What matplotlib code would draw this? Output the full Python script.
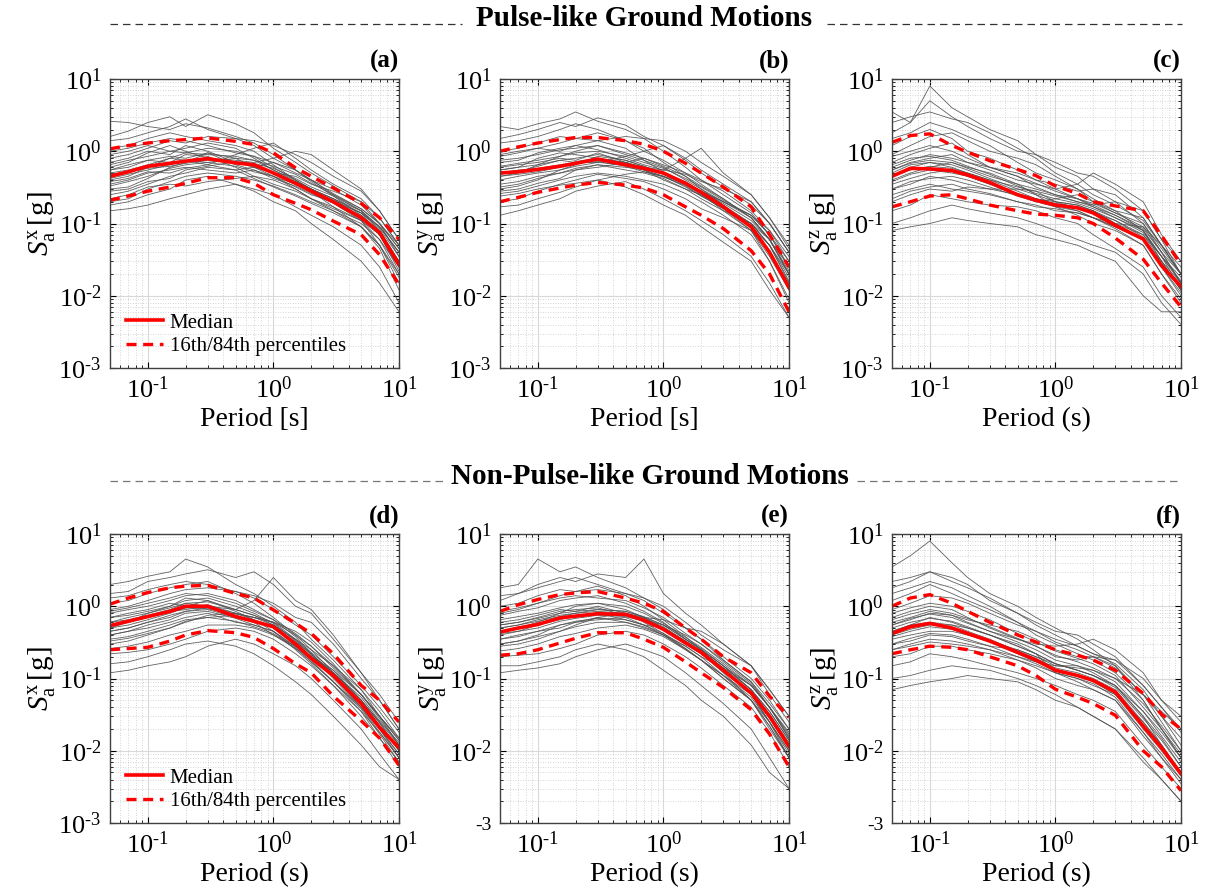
import numpy as np
import matplotlib
matplotlib.use("Agg")
import matplotlib.pyplot as plt
from matplotlib.lines import Line2D
from matplotlib.ticker import FixedLocator, LogLocator, FuncFormatter, NullFormatter

plt.rcParams['font.family'] = ['Liberation Serif', 'DejaVu Serif']
plt.rcParams['mathtext.fontset'] = 'custom'
plt.rcParams['mathtext.rm'] = 'Liberation Serif'
plt.rcParams['mathtext.it'] = 'Liberation Serif:italic'
plt.rcParams['mathtext.bf'] = 'Liberation Serif:bold'

#PERIOD GRID (s)
period = [0.05, 0.07, 0.1, 0.15, 0.2, 0.3, 0.5, 0.7, 1.0, 1.5, 2.0, 3.0, 5.0, 7.0, 10.0]

#PANEL (a) PULSE-LIKE, X
medianA = [0.45, 0.52, 0.62, 0.68, 0.73, 0.79, 0.69, 0.65, 0.50, 0.36, 0.28, 0.20, 0.12, 0.075, 0.027]
p84A = [1.08, 1.20, 1.30, 1.40, 1.45, 1.53, 1.37, 1.24, 0.95, 0.59, 0.45, 0.31, 0.19, 0.12, 0.06]
p16A = [0.21, 0.24, 0.28, 0.32, 0.36, 0.43, 0.43, 0.36, 0.25, 0.19, 0.155, 0.108, 0.07, 0.037, 0.0143]
recordsA = [
    [2.6, 2.5, 2.2, 2.0, 2.4, 2.1, 1.6, 1.3, 0.9, 0.55, 0.40, 0.25, 0.15, 0.09, 0.04],
    [1.6, 1.9, 2.5, 3.0, 2.2, 3.2, 2.4, 1.8, 1.1, 0.7, 0.5, 0.33, 0.2, 0.12, 0.05],
    [0.15, 0.16, 0.18, 0.22, 0.25, 0.30, 0.35, 0.30, 0.25, 0.17, 0.13, 0.09, 0.05, 0.025, 0.008],
    [0.40, 0.45, 0.60, 0.80, 0.95, 1.10, 1.00, 0.85, 0.60, 0.40, 0.30, 0.22, 0.12, 0.07, 0.025],
    [0.25, 0.28, 0.35, 0.45, 0.50, 0.60, 0.55, 0.60, 0.70, 0.55, 0.40, 0.30, 0.18, 0.10, 0.045],
    [1.1, 1.2, 1.5, 1.8, 1.6, 1.4, 1.2, 1.0, 0.65, 0.40, 0.28, 0.17, 0.09, 0.05, 0.015],
    [0.55, 0.65, 0.75, 0.70, 0.90, 0.85, 0.60, 0.45, 0.35, 0.28, 0.22, 0.15, 0.09, 0.05, 0.02],
    [0.20, 0.22, 0.30, 0.38, 0.45, 0.50, 0.45, 0.40, 0.33, 0.25, 0.20, 0.15, 0.10, 0.06, 0.025],
    [0.80, 0.90, 1.10, 1.40, 1.30, 1.60, 1.50, 1.40, 1.20, 0.90, 0.70, 0.45, 0.28, 0.15, 0.06],
    [0.35, 0.40, 0.50, 0.55, 0.60, 0.55, 0.50, 0.55, 0.45, 0.30, 0.22, 0.16, 0.11, 0.07, 0.03],
    [0.60, 0.70, 0.95, 1.20, 1.00, 0.80, 0.75, 0.70, 0.80, 1.00, 0.90, 0.55, 0.30, 0.15, 0.06],
    [0.18, 0.20, 0.25, 0.30, 0.40, 0.45, 0.35, 0.28, 0.20, 0.15, 0.10, 0.06, 0.03, 0.015, 0.006],
    [1.4, 1.5, 1.8, 2.2, 2.8, 2.0, 1.5, 1.2, 0.80, 0.55, 0.38, 0.24, 0.13, 0.07, 0.025],
    [0.30, 0.32, 0.42, 0.60, 0.70, 0.95, 0.80, 0.60, 0.45, 0.32, 0.25, 0.20, 0.14, 0.09, 0.04],
    [0.50, 0.55, 0.65, 0.80, 0.75, 0.65, 0.90, 1.10, 1.30, 0.80, 0.55, 0.35, 0.22, 0.12, 0.05],
    [0.90, 1.00, 1.20, 1.00, 1.10, 1.30, 1.10, 0.80, 0.55, 0.38, 0.30, 0.22, 0.15, 0.08, 0.03],
    [0.22, 0.25, 0.32, 0.35, 0.33, 0.38, 0.42, 0.45, 0.40, 0.30, 0.22, 0.17, 0.11, 0.05, 0.018],
    [0.70, 0.80, 1.00, 0.90, 1.20, 1.00, 0.70, 0.60, 0.50, 0.45, 0.35, 0.28, 0.20, 0.10, 0.035],
    [0.42, 0.48, 0.55, 0.65, 0.75, 0.70, 0.80, 0.75, 0.55, 0.40, 0.30, 0.20, 0.13, 0.08, 0.03],
    [0.55, 0.60, 0.75, 0.85, 0.80, 0.95, 0.65, 0.55, 0.42, 0.33, 0.26, 0.19, 0.11, 0.06, 0.02],
    [0.33, 0.38, 0.45, 0.58, 0.65, 0.70, 0.62, 0.52, 0.45, 0.35, 0.28, 0.21, 0.14, 0.085, 0.035],
    [0.28, 0.30, 0.38, 0.42, 0.55, 0.62, 0.72, 0.68, 0.58, 0.42, 0.32, 0.24, 0.15, 0.09, 0.04],
    [0.65, 0.75, 0.85, 1.00, 0.95, 0.90, 0.85, 0.75, 0.62, 0.48, 0.36, 0.25, 0.16, 0.10, 0.045],
    [0.38, 0.42, 0.52, 0.50, 0.58, 0.65, 0.55, 0.42, 0.32, 0.24, 0.19, 0.14, 0.09, 0.045, 0.012],
    [1.0, 1.1, 1.3, 1.5, 1.4, 1.2, 0.95, 0.85, 0.70, 0.50, 0.40, 0.26, 0.16, 0.10, 0.05],
    [0.48, 0.52, 0.58, 0.62, 0.68, 0.75, 0.70, 0.62, 0.50, 0.38, 0.30, 0.22, 0.14, 0.07, 0.022],
]

#PANEL (b) PULSE-LIKE, Y
medianB = [0.50, 0.52, 0.56, 0.62, 0.68, 0.78, 0.65, 0.58, 0.50, 0.36, 0.27, 0.17, 0.09, 0.040, 0.013]
p84B = [1.00, 1.15, 1.30, 1.45, 1.55, 1.55, 1.40, 1.25, 1.00, 0.68, 0.50, 0.32, 0.17, 0.07, 0.025]
p16B = [0.20, 0.23, 0.27, 0.31, 0.34, 0.37, 0.34, 0.31, 0.25, 0.17, 0.13, 0.085, 0.042, 0.02, 0.006]
recordsB = [
    [2.2, 2.0, 2.4, 2.8, 3.5, 2.6, 2.0, 1.5, 1.0, 0.6, 0.4, 0.25, 0.14, 0.07, 0.025],
    [1.5, 1.7, 2.0, 2.5, 2.2, 2.9, 2.3, 1.6, 1.2, 0.80, 0.55, 0.35, 0.20, 0.10, 0.04],
    [0.13, 0.15, 0.18, 0.22, 0.28, 0.33, 0.38, 0.30, 0.22, 0.15, 0.11, 0.07, 0.035, 0.015, 0.005],
    [0.45, 0.50, 0.65, 0.85, 1.00, 1.20, 0.90, 0.75, 0.60, 0.40, 0.30, 0.20, 0.12, 0.06, 0.02],
    [0.28, 0.30, 0.36, 0.42, 0.55, 0.60, 0.70, 0.80, 0.65, 0.50, 0.40, 0.28, 0.15, 0.08, 0.03],
    [1.0, 1.1, 1.3, 1.6, 1.5, 1.8, 1.4, 1.1, 0.70, 0.45, 0.30, 0.18, 0.09, 0.05, 0.015],
    [0.60, 0.65, 0.70, 0.80, 0.75, 0.95, 0.70, 0.55, 0.40, 0.30, 0.25, 0.17, 0.10, 0.05, 0.02],
    [0.20, 0.22, 0.28, 0.35, 0.40, 0.48, 0.42, 0.38, 0.30, 0.22, 0.16, 0.12, 0.08, 0.04, 0.015],
    [0.85, 0.95, 1.10, 1.30, 1.50, 1.40, 1.60, 1.50, 1.40, 1.00, 0.70, 0.45, 0.25, 0.12, 0.045],
    [0.35, 0.38, 0.45, 0.50, 0.55, 0.65, 0.55, 0.50, 0.42, 0.30, 0.22, 0.15, 0.10, 0.06, 0.025],
    [0.55, 0.60, 0.80, 0.95, 0.90, 0.80, 0.70, 0.60, 0.55, 0.80, 1.10, 0.50, 0.25, 0.12, 0.05],
    [0.17, 0.18, 0.22, 0.27, 0.32, 0.40, 0.32, 0.25, 0.18, 0.13, 0.09, 0.055, 0.03, 0.012, 0.005],
    [1.3, 1.4, 1.6, 2.0, 2.4, 2.0, 1.4, 1.0, 0.75, 0.50, 0.35, 0.22, 0.12, 0.06, 0.02],
    [0.30, 0.33, 0.40, 0.55, 0.65, 0.85, 0.75, 0.62, 0.48, 0.35, 0.28, 0.20, 0.13, 0.08, 0.035],
    [0.48, 0.52, 0.62, 0.75, 0.70, 0.70, 0.85, 1.00, 1.20, 0.75, 0.50, 0.32, 0.18, 0.10, 0.04],
    [0.90, 1.00, 1.10, 1.00, 1.20, 1.40, 1.10, 0.75, 0.52, 0.36, 0.28, 0.20, 0.13, 0.07, 0.025],
    [0.24, 0.26, 0.30, 0.34, 0.36, 0.40, 0.48, 0.52, 0.45, 0.33, 0.24, 0.17, 0.10, 0.05, 0.016],
    [0.70, 0.75, 0.95, 1.10, 1.20, 1.05, 0.80, 0.65, 0.55, 0.48, 0.38, 0.30, 0.20, 0.10, 0.04],
    [0.45, 0.48, 0.52, 0.60, 0.72, 0.80, 0.70, 0.60, 0.48, 0.35, 0.26, 0.15, 0.08, 0.035, 0.012],
    [0.55, 0.60, 0.65, 0.75, 0.80, 0.90, 0.75, 0.62, 0.50, 0.38, 0.28, 0.18, 0.10, 0.05, 0.018],
    [0.32, 0.35, 0.42, 0.50, 0.58, 0.65, 0.60, 0.55, 0.45, 0.32, 0.24, 0.16, 0.09, 0.04, 0.012],
    [0.40, 0.45, 0.50, 0.55, 0.62, 0.70, 0.65, 0.55, 0.45, 0.36, 0.28, 0.19, 0.11, 0.06, 0.022],
    [0.75, 0.80, 0.90, 1.05, 1.10, 1.20, 0.95, 0.80, 0.62, 0.45, 0.33, 0.22, 0.12, 0.06, 0.02],
    [0.26, 0.28, 0.33, 0.40, 0.45, 0.50, 0.45, 0.40, 0.35, 0.26, 0.20, 0.13, 0.07, 0.03, 0.009],
    [0.62, 0.68, 0.75, 0.85, 0.95, 1.00, 0.85, 0.70, 0.58, 0.42, 0.32, 0.21, 0.13, 0.07, 0.03],
    [0.50, 0.55, 0.58, 0.65, 0.70, 0.72, 0.62, 0.52, 0.44, 0.34, 0.25, 0.16, 0.08, 0.03, 0.008],
]

#PANEL (c) PULSE-LIKE, Z
medianC = [0.45, 0.58, 0.57, 0.54, 0.47, 0.37, 0.25, 0.21, 0.18, 0.165, 0.14, 0.094, 0.061, 0.026, 0.0135]
p84C = [1.33, 1.65, 1.74, 1.20, 0.97, 0.74, 0.56, 0.46, 0.33, 0.26, 0.20, 0.175, 0.15, 0.068, 0.027]
p16C = [0.17, 0.20, 0.24, 0.25, 0.22, 0.18, 0.15, 0.135, 0.13, 0.12, 0.10, 0.063, 0.032, 0.015, 0.007]
recordsC = [
    [3.5, 2.5, 5.0, 3.0, 2.2, 1.5, 1.0, 0.9, 0.6, 0.45, 0.30, 0.20, 0.10, 0.04, 0.015],
    [1.8, 2.5, 8.0, 4.0, 3.0, 2.0, 1.4, 0.9, 0.7, 0.5, 0.45, 0.30, 0.15, 0.06, 0.02],
    [0.08, 0.09, 0.10, 0.12, 0.11, 0.10, 0.09, 0.07, 0.06, 0.05, 0.04, 0.03, 0.010, 0.006, 0.006],
    [0.45, 0.60, 0.70, 0.60, 0.50, 0.40, 0.28, 0.22, 0.20, 0.18, 0.15, 0.10, 0.06, 0.025, 0.01],
    [1.2, 1.6, 2.0, 1.5, 1.0, 0.80, 0.55, 0.40, 0.30, 0.22, 0.17, 0.13, 0.08, 0.03, 0.012],
    [0.25, 0.30, 0.35, 0.30, 0.28, 0.25, 0.20, 0.18, 0.15, 0.14, 0.12, 0.10, 0.09, 0.05, 0.025],
    [0.70, 0.90, 1.10, 1.30, 0.90, 0.60, 0.45, 0.32, 0.25, 0.20, 0.18, 0.20, 0.15, 0.06, 0.03],
    [0.15, 0.18, 0.25, 0.22, 0.20, 0.18, 0.17, 0.15, 0.12, 0.10, 0.07, 0.045, 0.025, 0.01, 0.005],
    [2.5, 3.0, 3.5, 2.8, 2.5, 1.8, 1.1, 0.8, 0.5, 0.35, 0.25, 0.18, 0.11, 0.05, 0.02],
    [0.35, 0.42, 0.50, 0.55, 0.45, 0.35, 0.25, 0.20, 0.22, 0.25, 0.20, 0.14, 0.09, 0.04, 0.015],
    [0.55, 0.70, 0.80, 0.90, 0.70, 0.55, 0.40, 0.35, 0.30, 0.35, 0.50, 0.35, 0.20, 0.07, 0.03],
    [0.10, 0.12, 0.15, 0.18, 0.16, 0.14, 0.12, 0.10, 0.08, 0.06, 0.05, 0.04, 0.02, 0.008, 0.004],
    [0.90, 1.20, 1.60, 1.80, 1.40, 1.00, 0.80, 0.65, 0.45, 0.30, 0.22, 0.15, 0.08, 0.035, 0.012],
    [0.30, 0.35, 0.45, 0.40, 0.35, 0.30, 0.30, 0.28, 0.20, 0.16, 0.14, 0.11, 0.07, 0.035, 0.015],
    [0.40, 0.50, 0.60, 0.70, 0.60, 0.50, 0.35, 0.25, 0.17, 0.13, 0.10, 0.08, 0.05, 0.02, 0.008],
    [1.5, 1.8, 2.5, 2.0, 1.6, 1.2, 0.70, 0.50, 0.40, 0.30, 0.20, 0.15, 0.12, 0.05, 0.02],
    [0.20, 0.25, 0.30, 0.28, 0.32, 0.30, 0.25, 0.22, 0.18, 0.15, 0.12, 0.09, 0.06, 0.03, 0.012],
    [0.60, 0.75, 0.90, 0.80, 0.70, 0.60, 0.50, 0.40, 0.35, 0.28, 0.30, 0.25, 0.12, 0.05, 0.02],
    [0.50, 0.65, 0.70, 0.65, 0.55, 0.42, 0.30, 0.25, 0.20, 0.18, 0.15, 0.10, 0.07, 0.03, 0.015],
    [0.38, 0.48, 0.55, 0.50, 0.45, 0.35, 0.26, 0.22, 0.19, 0.17, 0.15, 0.11, 0.065, 0.028, 0.012],
    [0.65, 0.80, 0.85, 0.75, 0.62, 0.48, 0.33, 0.26, 0.22, 0.19, 0.16, 0.12, 0.08, 0.035, 0.016],
    [0.30, 0.38, 0.42, 0.45, 0.40, 0.32, 0.24, 0.20, 0.17, 0.15, 0.12, 0.085, 0.05, 0.02, 0.009],
    [0.85, 1.00, 1.20, 1.00, 0.80, 0.60, 0.45, 0.36, 0.28, 0.22, 0.19, 0.14, 0.10, 0.045, 0.02],
    [0.22, 0.28, 0.32, 0.35, 0.30, 0.26, 0.20, 0.17, 0.16, 0.14, 0.12, 0.09, 0.06, 0.025, 0.011],
    [0.45, 0.55, 0.62, 0.58, 0.50, 0.40, 0.32, 0.28, 0.24, 0.20, 0.17, 0.12, 0.075, 0.035, 0.018],
    [0.55, 0.68, 0.75, 0.70, 0.58, 0.45, 0.35, 0.30, 0.25, 0.22, 0.18, 0.13, 0.085, 0.04, 0.02],
]

#PANEL (d) NON-PULSE-LIKE, X
medianD = [0.54, 0.62, 0.72, 0.85, 1.00, 1.00, 0.72, 0.62, 0.52, 0.30, 0.19, 0.11, 0.045, 0.021, 0.011]
p84D = [1.07, 1.30, 1.55, 1.80, 1.90, 1.95, 1.50, 1.30, 0.89, 0.58, 0.42, 0.22, 0.08, 0.05, 0.025]
p16D = [0.25, 0.26, 0.27, 0.33, 0.40, 0.46, 0.43, 0.37, 0.26, 0.16, 0.12, 0.057, 0.026, 0.015, 0.0063]
recordsD = [
    [2.0, 2.2, 2.6, 3.0, 4.5, 3.5, 2.0, 1.5, 1.0, 0.6, 0.35, 0.18, 0.07, 0.035, 0.015],
    [1.5, 1.6, 2.2, 2.5, 2.8, 3.2, 2.5, 3.0, 2.0, 1.0, 0.8, 0.35, 0.12, 0.06, 0.025],
    [0.12, 0.13, 0.15, 0.17, 0.20, 0.28, 0.35, 0.30, 0.22, 0.15, 0.10, 0.05, 0.02, 0.009, 0.004],
    [0.50, 0.60, 0.80, 1.00, 1.30, 1.20, 0.90, 0.75, 0.55, 0.30, 0.20, 0.10, 0.04, 0.02, 0.009],
    [0.30, 0.33, 0.40, 0.50, 0.60, 0.75, 0.80, 0.70, 0.60, 0.40, 0.28, 0.15, 0.06, 0.03, 0.015],
    [1.1, 1.2, 1.5, 1.8, 2.0, 2.2, 1.5, 1.1, 0.70, 0.40, 0.25, 0.12, 0.05, 0.022, 0.01],
    [0.70, 0.80, 0.90, 1.10, 1.00, 1.20, 0.85, 0.65, 0.45, 0.28, 0.18, 0.09, 0.035, 0.018, 0.008],
    [0.22, 0.23, 0.25, 0.30, 0.35, 0.45, 0.50, 0.45, 0.35, 0.22, 0.15, 0.08, 0.035, 0.015, 0.006],
    [0.90, 1.00, 1.20, 1.50, 1.70, 1.80, 1.60, 1.40, 1.10, 0.70, 0.60, 0.30, 0.10, 0.05, 0.02],
    [0.40, 0.45, 0.50, 0.60, 0.70, 0.80, 0.60, 0.55, 0.45, 0.25, 0.16, 0.08, 0.03, 0.015, 0.007],
    [0.55, 0.60, 0.70, 0.85, 0.90, 1.00, 0.90, 1.20, 2.50, 1.20, 0.90, 0.40, 0.12, 0.05, 0.02],
    [0.16, 0.17, 0.20, 0.25, 0.30, 0.33, 0.28, 0.22, 0.15, 0.09, 0.06, 0.03, 0.012, 0.006, 0.004],
    [1.3, 1.4, 1.7, 2.0, 2.2, 2.0, 1.6, 1.3, 0.90, 0.55, 0.40, 0.20, 0.08, 0.04, 0.018],
    [0.35, 0.38, 0.45, 0.55, 0.65, 0.70, 0.75, 0.60, 0.40, 0.26, 0.20, 0.13, 0.06, 0.03, 0.014],
    [0.45, 0.50, 0.60, 0.75, 0.85, 0.90, 0.70, 0.60, 0.55, 0.35, 0.25, 0.15, 0.07, 0.03, 0.012],
    [0.80, 0.90, 1.00, 1.20, 1.40, 1.50, 1.20, 0.90, 0.65, 0.38, 0.22, 0.11, 0.04, 0.02, 0.008],
    [0.26, 0.28, 0.32, 0.40, 0.45, 0.55, 0.55, 0.50, 0.40, 0.28, 0.20, 0.12, 0.05, 0.025, 0.01],
    [0.60, 0.65, 0.75, 0.90, 1.10, 1.00, 0.80, 0.70, 0.60, 0.45, 0.32, 0.16, 0.06, 0.028, 0.012],
    [0.50, 0.55, 0.65, 0.80, 0.95, 1.05, 0.80, 0.65, 0.50, 0.30, 0.20, 0.11, 0.045, 0.022, 0.011],
    [0.60, 0.70, 0.80, 0.95, 1.10, 1.15, 0.90, 0.75, 0.60, 0.35, 0.23, 0.13, 0.05, 0.025, 0.012],
    [0.40, 0.45, 0.55, 0.65, 0.80, 0.85, 0.68, 0.55, 0.45, 0.27, 0.17, 0.09, 0.04, 0.018, 0.008],
    [0.70, 0.75, 0.85, 1.00, 1.20, 1.30, 1.00, 0.80, 0.58, 0.33, 0.21, 0.12, 0.05, 0.024, 0.01],
    [0.45, 0.50, 0.60, 0.70, 0.85, 0.95, 0.75, 0.62, 0.52, 0.32, 0.22, 0.12, 0.055, 0.026, 0.013],
    [0.85, 0.95, 1.10, 1.30, 1.50, 1.40, 1.10, 0.85, 0.65, 0.42, 0.28, 0.14, 0.06, 0.03, 0.014],
    [0.33, 0.36, 0.42, 0.50, 0.62, 0.70, 0.62, 0.52, 0.42, 0.26, 0.17, 0.09, 0.038, 0.017, 0.007],
    [0.55, 0.62, 0.72, 0.85, 0.95, 0.92, 0.78, 0.70, 0.55, 0.34, 0.22, 0.11, 0.045, 0.02, 0.009],
]

#PANEL (e) NON-PULSE-LIKE, Y
medianE = [0.44, 0.50, 0.56, 0.69, 0.73, 0.79, 0.77, 0.64, 0.48, 0.31, 0.23, 0.13, 0.063, 0.03, 0.0115]
p84E = [0.85, 1.05, 1.24, 1.45, 1.53, 1.60, 1.30, 1.10, 0.85, 0.50, 0.35, 0.20, 0.12, 0.057, 0.029]
p16E = [0.21, 0.22, 0.25, 0.31, 0.36, 0.43, 0.43, 0.35, 0.27, 0.17, 0.12, 0.075, 0.037, 0.017, 0.006]
recordsE = [
    [1.8, 2.0, 4.5, 3.0, 3.5, 2.5, 1.8, 1.3, 0.9, 0.5, 0.35, 0.2, 0.1, 0.05, 0.02],
    [1.2, 1.5, 2.0, 2.5, 2.2, 2.8, 2.5, 4.5, 1.5, 0.8, 0.55, 0.3, 0.15, 0.07, 0.03],
    [0.12, 0.13, 0.14, 0.16, 0.20, 0.25, 0.30, 0.25, 0.20, 0.12, 0.08, 0.045, 0.02, 0.008, 0.003],
    [0.45, 0.50, 0.60, 0.80, 1.00, 1.10, 0.90, 0.70, 0.50, 0.30, 0.22, 0.12, 0.05, 0.025, 0.01],
    [0.28, 0.30, 0.35, 0.45, 0.55, 0.70, 0.80, 0.70, 0.55, 0.35, 0.25, 0.15, 0.08, 0.04, 0.015],
    [1.0, 1.1, 1.4, 1.7, 1.6, 1.9, 1.4, 1.0, 0.65, 0.38, 0.25, 0.13, 0.06, 0.025, 0.008],
    [0.60, 0.65, 0.75, 0.90, 0.85, 1.00, 0.80, 0.60, 0.42, 0.26, 0.18, 0.10, 0.05, 0.02, 0.008],
    [0.20, 0.21, 0.22, 0.26, 0.30, 0.40, 0.45, 0.40, 0.30, 0.20, 0.14, 0.08, 0.04, 0.018, 0.006],
    [0.80, 0.90, 1.10, 1.40, 1.60, 1.70, 1.50, 1.30, 1.00, 0.60, 0.40, 0.25, 0.15, 0.07, 0.03],
    [0.35, 0.38, 0.45, 0.50, 0.60, 0.70, 0.60, 0.50, 0.40, 0.25, 0.18, 0.11, 0.06, 0.03, 0.012],
    [0.50, 0.55, 0.65, 0.75, 0.80, 0.90, 0.85, 0.70, 0.65, 0.50, 0.45, 0.30, 0.15, 0.06, 0.025],
    [0.15, 0.15, 0.17, 0.20, 0.25, 0.30, 0.25, 0.20, 0.13, 0.08, 0.05, 0.03, 0.012, 0.005, 0.003],
    [1.4, 1.5, 1.8, 2.2, 2.5, 2.0, 1.5, 1.2, 0.80, 0.50, 0.35, 0.18, 0.09, 0.04, 0.015],
    [0.30, 0.33, 0.40, 0.55, 0.60, 0.65, 0.70, 0.55, 0.40, 0.28, 0.20, 0.14, 0.08, 0.04, 0.018],
    [0.42, 0.45, 0.55, 0.65, 0.75, 0.80, 0.65, 0.55, 0.50, 0.32, 0.22, 0.13, 0.06, 0.025, 0.009],
    [0.75, 0.85, 0.95, 1.20, 1.30, 1.40, 1.10, 0.85, 0.60, 0.35, 0.25, 0.15, 0.07, 0.035, 0.014],
    [0.24, 0.26, 0.30, 0.38, 0.42, 0.50, 0.55, 0.48, 0.38, 0.25, 0.18, 0.11, 0.05, 0.022, 0.008],
    [0.55, 0.60, 0.70, 0.85, 0.90, 0.95, 0.75, 0.65, 0.55, 0.40, 0.30, 0.18, 0.09, 0.045, 0.02],
    [0.45, 0.50, 0.55, 0.68, 0.72, 0.80, 0.78, 0.65, 0.48, 0.30, 0.22, 0.13, 0.065, 0.03, 0.012],
    [0.55, 0.60, 0.68, 0.80, 0.85, 0.90, 0.85, 0.72, 0.55, 0.35, 0.26, 0.15, 0.07, 0.035, 0.014],
    [0.35, 0.40, 0.45, 0.55, 0.62, 0.68, 0.65, 0.55, 0.42, 0.28, 0.20, 0.11, 0.055, 0.025, 0.01],
    [0.65, 0.72, 0.80, 0.95, 1.05, 1.10, 1.00, 0.80, 0.58, 0.37, 0.27, 0.16, 0.08, 0.04, 0.016],
    [0.40, 0.45, 0.50, 0.62, 0.68, 0.75, 0.72, 0.62, 0.50, 0.33, 0.24, 0.14, 0.07, 0.032, 0.013],
    [0.85, 0.95, 1.10, 1.30, 1.40, 1.30, 1.20, 0.95, 0.70, 0.42, 0.30, 0.17, 0.085, 0.04, 0.017],
    [0.30, 0.33, 0.38, 0.45, 0.52, 0.60, 0.60, 0.52, 0.40, 0.26, 0.18, 0.10, 0.05, 0.022, 0.008],
    [0.50, 0.55, 0.62, 0.72, 0.80, 0.85, 0.80, 0.68, 0.52, 0.33, 0.24, 0.14, 0.06, 0.028, 0.011],
]

#PANEL (f) NON-PULSE-LIKE, Z
medianF = [0.42, 0.52, 0.58, 0.50, 0.42, 0.33, 0.23, 0.18, 0.13, 0.11, 0.094, 0.065, 0.022, 0.011, 0.0048]
p84F = [1.00, 1.30, 1.45, 1.10, 0.85, 0.60, 0.40, 0.32, 0.25, 0.21, 0.18, 0.13, 0.062, 0.032, 0.020]
p16F = [0.22, 0.25, 0.28, 0.27, 0.25, 0.20, 0.15, 0.11, 0.071, 0.055, 0.045, 0.031, 0.010, 0.006, 0.0028]
recordsF = [
    [3.5, 5.0, 8.0, 4.0, 2.5, 1.5, 1.0, 0.7, 0.5, 0.35, 0.25, 0.15, 0.06, 0.03, 0.015],
    [1.8, 2.2, 3.0, 2.5, 2.0, 1.2, 0.80, 0.60, 0.45, 0.40, 0.30, 0.20, 0.08, 0.04, 0.02],
    [0.07, 0.08, 0.09, 0.10, 0.11, 0.10, 0.09, 0.07, 0.05, 0.04, 0.03, 0.02, 0.008, 0.004, 0.002],
    [0.45, 0.55, 0.70, 0.60, 0.50, 0.40, 0.28, 0.22, 0.16, 0.13, 0.11, 0.08, 0.03, 0.015, 0.006],
    [1.2, 1.5, 2.0, 1.5, 1.2, 0.90, 0.60, 0.40, 0.30, 0.22, 0.18, 0.12, 0.05, 0.02, 0.008],
    [0.25, 0.28, 0.32, 0.30, 0.28, 0.25, 0.20, 0.17, 0.15, 0.14, 0.13, 0.10, 0.06, 0.035, 0.02],
    [0.70, 0.85, 1.00, 0.90, 0.70, 0.50, 0.35, 0.28, 0.20, 0.18, 0.20, 0.18, 0.08, 0.04, 0.018],
    [0.15, 0.17, 0.22, 0.20, 0.18, 0.15, 0.12, 0.10, 0.08, 0.06, 0.05, 0.035, 0.012, 0.006, 0.003],
    [2.2, 2.5, 3.0, 2.2, 1.8, 1.3, 0.80, 0.55, 0.40, 0.28, 0.22, 0.16, 0.07, 0.03, 0.012],
    [0.35, 0.40, 0.45, 0.45, 0.40, 0.33, 0.25, 0.20, 0.15, 0.15, 0.12, 0.08, 0.03, 0.012, 0.005],
    [0.55, 0.65, 0.80, 0.75, 0.60, 0.45, 0.35, 0.30, 0.28, 0.30, 0.35, 0.25, 0.12, 0.05, 0.025],
    [0.10, 0.11, 0.13, 0.15, 0.14, 0.13, 0.10, 0.08, 0.06, 0.04, 0.03, 0.02, 0.007, 0.004, 0.002],
    [0.90, 1.10, 1.40, 1.30, 1.10, 0.80, 0.55, 0.45, 0.32, 0.25, 0.20, 0.14, 0.06, 0.025, 0.01],
    [0.30, 0.33, 0.40, 0.38, 0.33, 0.28, 0.25, 0.20, 0.16, 0.13, 0.11, 0.08, 0.035, 0.018, 0.008],
    [0.40, 0.48, 0.55, 0.55, 0.50, 0.40, 0.30, 0.22, 0.12, 0.09, 0.07, 0.05, 0.018, 0.008, 0.004],
    [1.5, 1.8, 2.2, 1.8, 1.4, 1.0, 0.60, 0.45, 0.35, 0.28, 0.22, 0.18, 0.10, 0.05, 0.03],
    [0.20, 0.22, 0.28, 0.28, 0.25, 0.22, 0.18, 0.15, 0.12, 0.10, 0.08, 0.06, 0.025, 0.012, 0.005],
    [0.60, 0.70, 0.85, 0.75, 0.65, 0.55, 0.45, 0.35, 0.25, 0.20, 0.20, 0.15, 0.05, 0.02, 0.008],
    [0.45, 0.55, 0.60, 0.55, 0.45, 0.35, 0.24, 0.19, 0.14, 0.12, 0.10, 0.07, 0.025, 0.012, 0.005],
    [0.38, 0.45, 0.52, 0.48, 0.40, 0.32, 0.22, 0.17, 0.13, 0.11, 0.09, 0.06, 0.02, 0.01, 0.0045],
    [0.55, 0.68, 0.78, 0.70, 0.58, 0.45, 0.32, 0.25, 0.18, 0.15, 0.13, 0.09, 0.035, 0.016, 0.007],
    [0.30, 0.36, 0.42, 0.40, 0.35, 0.28, 0.20, 0.16, 0.12, 0.10, 0.085, 0.055, 0.018, 0.009, 0.004],
    [0.80, 0.95, 1.10, 1.00, 0.85, 0.65, 0.42, 0.32, 0.24, 0.19, 0.16, 0.11, 0.04, 0.02, 0.009],
    [0.25, 0.30, 0.35, 0.33, 0.30, 0.25, 0.18, 0.14, 0.10, 0.08, 0.07, 0.05, 0.016, 0.008, 0.0035],
    [0.50, 0.60, 0.68, 0.62, 0.52, 0.40, 0.28, 0.22, 0.16, 0.13, 0.11, 0.075, 0.028, 0.014, 0.006],
    [0.65, 0.78, 0.90, 0.80, 0.68, 0.52, 0.36, 0.28, 0.21, 0.17, 0.14, 0.10, 0.045, 0.022, 0.01],
]

panelTags = ['(a)', '(b)', '(c)', '(d)', '(e)', '(f)']
components = ['x', 'y', 'z', 'x', 'y', 'z']
xLabels = ['Period [s]', 'Period [s]', 'Period (s)', 'Period (s)', 'Period (s)', 'Period (s)']
yTicks = [1e-3, 1e-2, 1e-1, 1e0, 1e1]

panelData = [
    (recordsA, medianA, p16A, p84A),
    (recordsB, medianB, p16B, p84B),
    (recordsC, medianC, p16C, p84C),
    (recordsD, medianD, p16D, p84D),
    (recordsE, medianE, p16E, p84E),
    (recordsF, medianF, p16F, p84F),
]

#FIGURE
fig = plt.figure(figsize=(12.1, 8.93), dpi=100)
W, H = 1210.0, 893.0
lefts = [110, 500, 892]
tops = [79, 534]
boxW, boxH = 289, 289

def log_label(v, pos):
    e = int(round(np.log10(v)))
    if e < 0:
        return r'$\mathregular{10^{\text{-}%d}}$' % (-e)
    return r'$\mathregular{10^{%d}}$' % e

def short_label(v, pos):
    if int(round(np.log10(v))) == -3:
        return '-3'
    return log_label(v, pos)

for i in range(6):
    row = i // 3
    col = i % 3
    ax = fig.add_axes([lefts[col] / W, 1 - (tops[row] + boxH) / H, boxW / W, boxH / H])
    records, med, lo, hi = panelData[i]

    for rec in records:
        ax.plot(period, rec, color='#505050', linewidth=0.6, alpha=0.9)
    ax.plot(period, med, color='red', linewidth=2.6, label='Median')
    ax.plot(period, hi, color='red', linewidth=2.4, linestyle=(0, (3, 2)), label='16th/84th percentiles')
    ax.plot(period, lo, color='red', linewidth=2.4, linestyle=(0, (3, 2)))

    ax.set_xscale('log')
    ax.set_yscale('log')
    ax.set_xlim(0.05, 10)
    ax.set_ylim(1e-3, 1e1)

    ax.xaxis.set_major_locator(FixedLocator([0.1, 1, 10]))
    ax.xaxis.set_minor_locator(LogLocator(base=10, subs=np.arange(2, 10)))
    ax.xaxis.set_major_formatter(FuncFormatter(log_label))
    ax.xaxis.set_minor_formatter(NullFormatter())
    ax.yaxis.set_major_locator(FixedLocator(yTicks))
    ax.yaxis.set_minor_locator(LogLocator(base=10, subs=np.arange(2, 10)))
    if i in (4, 5):
        ax.yaxis.set_major_formatter(FuncFormatter(short_label))
    else:
        ax.yaxis.set_major_formatter(FuncFormatter(log_label))
    ax.yaxis.set_minor_formatter(NullFormatter())

    ax.grid(True, which='major', color='#d9d9d9', linewidth=0.8)
    ax.grid(True, which='minor', color='#c8c8c8', linewidth=0.6, linestyle=(0, (1, 2)))
    ax.set_axisbelow(True)
    ax.tick_params(which='both', direction='in', top=True, right=True, labelsize=19, pad=6)
    ax.tick_params(which='major', length=4)
    ax.tick_params(which='minor', length=2)
    for s in ax.spines.values():
        s.set_color('#404040')
        s.set_linewidth(1.0)
    if i in (4, 5):
        ax.yaxis.get_major_ticks()[0].label1.set_fontsize(14)

    ax.set_xlabel(xLabels[i], fontsize=20, labelpad=3)
    ax.set_ylabel(r'$S^{\mathrm{%s}}_{\mathrm{a}}\,$[g]' % components[i], fontsize=21, labelpad=0)
    ax.text(1.0, 1.02, panelTags[i], transform=ax.transAxes, ha='right', va='bottom',
            fontsize=18, fontweight='bold')

    if col == 0:
        ax.legend(loc='lower left', bbox_to_anchor=(-0.01, -0.025), frameon=False, fontsize=15,
                  handlelength=1.8, handletextpad=0.3, labelspacing=0.2)

#SECTION HEADERS
def header(text, yPix, lineColor, gapL, gapR):
    fig.text((gapL + gapR) / 2 / W, 1 - yPix / H, text, ha='center', va='center',
             fontsize=21, fontweight='bold')
    fig.add_artist(Line2D([110 / W, gapL / W], [1 - (yPix + 5) / H] * 2, transform=fig.transFigure,
                          color=lineColor, linewidth=0.9, linestyle=(0, (6, 4))))
    fig.add_artist(Line2D([gapR / W, 1182 / W], [1 - (yPix + 5) / H] * 2, transform=fig.transFigure,
                          color=lineColor, linewidth=0.9, linestyle=(0, (6, 4))))

header('Pulse-like Ground Motions', 19, '#333333', 462, 827)
header('Non-Pulse-like Ground Motions', 476, '#777777', 443, 857)

fig.savefig('out.png', dpi=100)
